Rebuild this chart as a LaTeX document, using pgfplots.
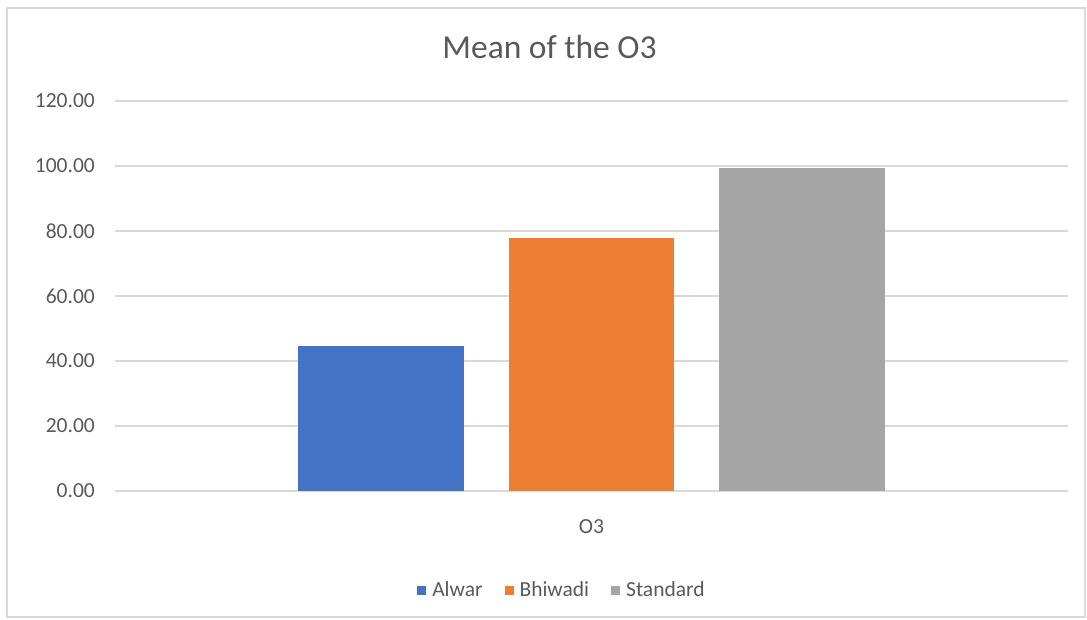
\documentclass[border=0pt]{standalone}
\usepackage{fontspec}
\setmainfont{Carlito}
\usepackage{pgfplots}
\pgfplotsset{compat=1.18}
\definecolor{cblue}{HTML}{4472C4}
\definecolor{corange}{HTML}{ED7D31}
\definecolor{cgray}{HTML}{A5A5A5}
\definecolor{gridc}{HTML}{D9D9D9}
\definecolor{txt}{HTML}{595959}
\begin{document}
\begin{tikzpicture}
\path[use as bounding box] (0,0) rectangle (1087pt,620pt);
\draw[gridc, line width=1.2pt] (7pt,3pt) rectangle (1085pt,612pt);
\begin{axis}[
  at={(115pt,129pt)}, anchor=south west,
  scale only axis, width=953pt, height=390pt,
  xmin=-0.5, xmax=0.5, ymin=0, ymax=120,
  ytick={0,20,...,120},
  xtick={0}, xticklabels={O3},
  ybar, bar width=0.174,
  axis line style={draw=none},
  major tick length=0pt,
  ymajorgrids, grid style={gridc, line width=1.5pt},
  /pgf/number format/assume math mode=true,
  yticklabel style={/pgf/number format/fixed, /pgf/number format/fixed zerofill, /pgf/number format/precision=2,
    font=\fontsize{21.5}{24}\selectfont, text=txt, anchor=east, inner sep=0pt, xshift=-20pt},
  xticklabel style={font=\fontsize{21.5}{24}\selectfont, text=txt, anchor=center, inner sep=0pt, yshift=-36pt},
  title={Mean of the O3},
  title style={font=\fontsize{33.5}{38}\selectfont, text=txt, at={(0.456,1.122)}, anchor=center},
  legend style={at={(0.469,-0.254)}, anchor=center, legend columns=3, draw=none, fill=none,
    font=\fontsize{21.5}{24}\selectfont, text=txt,
    /tikz/every even column/.append style={column sep=20pt}},
  legend image code/.code={\fill[#1] (0pt,-4.5pt) rectangle (9pt,4.5pt); \path (13pt,0pt);},
]
\addplot[fill=cblue, draw=none, bar shift=-0.2205] coordinates {(0,44.7)};
\addplot[fill=corange, draw=none, bar shift=0] coordinates {(0,77.9)};
\addplot[fill=cgray, draw=none, bar shift=0.2205] coordinates {(0,99.5)};
\legend{Alwar, Bhiwadi, Standard}
\end{axis}
\end{tikzpicture}
\end{document}
